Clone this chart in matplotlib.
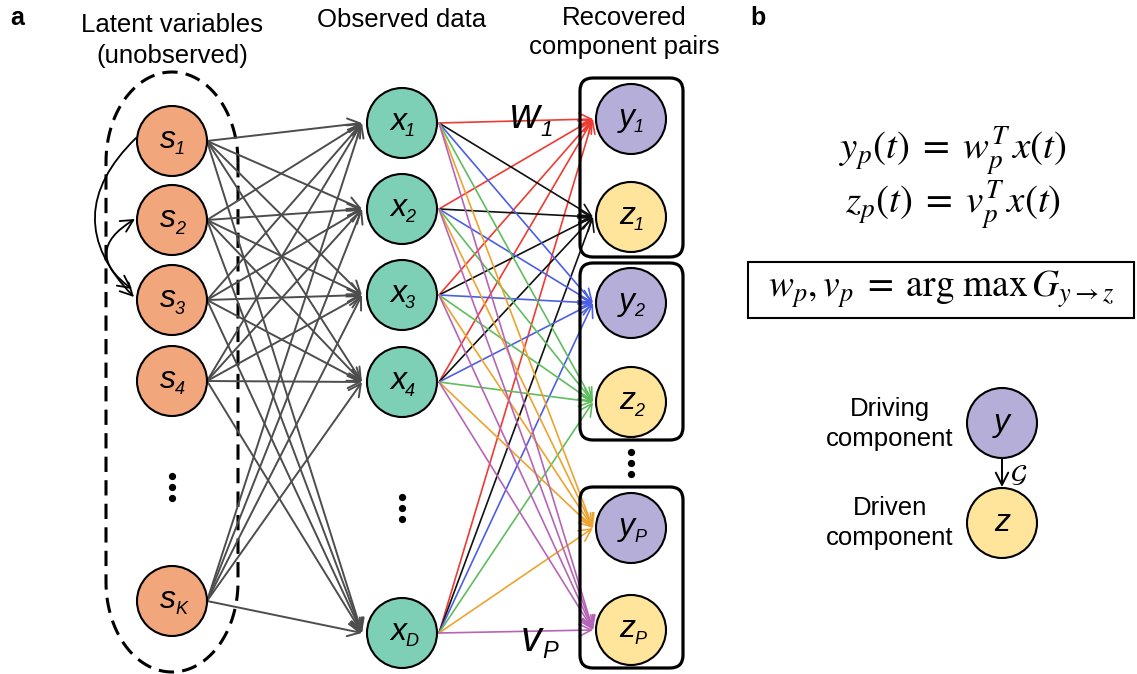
import numpy as np
import matplotlib
matplotlib.use("Agg")
import matplotlib.pyplot as plt
from matplotlib.patches import Circle, FancyArrowPatch, FancyBboxPatch, Rectangle, PathPatch
from matplotlib.path import Path

plt.rcParams['font.family'] = ['Liberation Sans', 'DejaVu Sans']

# node labels: (symbol, subscript)
latent_labels = [('s', '1'), ('s', '2'), ('s', '3'), ('s', '4'), ('s', 'K')]
observed_labels = [('x', '1'), ('x', '2'), ('x', '3'), ('x', '4'), ('x', 'D')]
recovered_labels = [('y', '1'), ('z', '1'), ('y', '2'), ('z', '2'), ('y', 'P'), ('z', 'P')]
weight_colors = ['#ee3b33', '#111111', '#4c5fe4', '#5fbd5f', '#eca32f', '#b565b5']

# layout (pixels, y downwards)
latent_x, latent_y = 172, [141, 220, 300, 381, 601]
observed_x, observed_y = 402, [123, 209, 295, 382, 633]
recovered_x, recovered_y = 631, [119, 217, 303, 402, 528, 630]
pair_boxes = [(580, 78, 683, 257), (580, 263, 683, 440), (580, 487, 683, 668)]
R = 35

fill = {'s': '#f1a77b', 'x': '#7dd0b6', 'y': '#b5aed8', 'z': '#fee59b'}
HEAD = 18.5

fig = plt.figure(figsize=(11.37, 6.74), dpi=100)
ax = fig.add_axes([0, 0, 1, 1])
ax.set_xlim(0, 1137)
ax.set_ylim(674, 0)
ax.axis('off')


def label(x, y, base, sub='', size=23, sub_size=13):
    if not sub:
        ax.text(x, y, base, ha='center', va='center', fontsize=size,
                fontstyle='italic', zorder=6)
        return
    ax.text(x + 4, y - 1, base, ha='right', va='center', fontsize=size,
            fontstyle='italic', zorder=6)
    ax.text(x + 3, y + 9, sub, ha='left', va='center', fontsize=sub_size,
            fontstyle='italic', zorder=6)


def node(x, y, color, base, sub=''):
    ax.add_patch(Circle((x, y), R, facecolor=color, edgecolor='black', lw=1.5, zorder=5))
    label(x, y, base, sub)


def arrow(p, q, color, lw, style='->', **kw):
    a = FancyArrowPatch(p, q, arrowstyle=style + ',head_length=0.55,head_width=0.28',
                        mutation_scale=16, color=color, lw=lw, shrinkA=0, shrinkB=0, **kw)
    ax.add_patch(a)


# panel labels
ax.text(10, 18, 'a', fontsize=18, fontweight='bold', va='center')
ax.text(750, 18, 'b', fontsize=18, fontweight='bold', va='center')

# column headers
ax.text(latent_x, 25, 'Latent variables', fontsize=HEAD, ha='center', va='center')
ax.text(latent_x, 56, '(unobserved)', fontsize=HEAD, ha='center', va='center')
ax.text(observed_x, 20, 'Observed data', fontsize=HEAD, ha='center', va='center')
ax.text(624, 18, 'Recovered', fontsize=HEAD, ha='center', va='center')
ax.text(624, 47, 'component pairs', fontsize=HEAD, ha='center', va='center')

# dashed outline around latent variables
t = np.linspace(0, np.pi, 60)
hw, cap = 66, 90
top = np.column_stack([latent_x + hw * np.cos(t), 72 + cap - cap * np.sin(t)])
bot = np.column_stack([latent_x - hw * np.cos(t), 672 - cap + cap * np.sin(t)])
verts = np.vstack([top, bot, top[:1]])
ax.add_patch(PathPatch(Path(verts), fill=False, lw=2.2, ls=(0, (5, 2.7)), zorder=1))

# mixing edges s -> x
for sy in latent_y:
    for xy in observed_y:
        arrow((latent_x + R, sy), (observed_x - 40, xy), '#4d4d4d', 1.4, zorder=2)

# weight edges x -> (y, z)
for ty, col in zip(recovered_y, weight_colors):
    for xy in observed_y:
        arrow((observed_x + R + 2, xy), (recovered_x - 38, ty), col, 1.2, zorder=3)

# lagged interactions among latent variables
arrow((136, 138), (134, 297), 'black', 1.3, connectionstyle='arc3,rad=0.5', zorder=4)
arrow((135, 219), (132, 289), 'black', 1.3, style='<->',
      connectionstyle='arc3,rad=0.75', zorder=4)

for y, (b, s) in zip(latent_y, latent_labels):
    node(latent_x, y, fill['s'], b, s)
for y, (b, s) in zip(observed_y, observed_labels):
    node(observed_x, y, fill['x'], b, s)
for y, (b, s) in zip(recovered_y, recovered_labels):
    node(recovered_x, y, fill[b], b, s)

for x0, y0, x1, y1 in pair_boxes:
    ax.add_patch(FancyBboxPatch((x0, y0), x1 - x0, y1 - y0,
                                boxstyle='round,pad=0,rounding_size=13',
                                fill=False, lw=2.3, zorder=4))

# ellipsis dots
for x, y in [(latent_x, 487), (observed_x, 508), (recovered_x, 463)]:
    ax.plot([x, x, x], [y - 11, y, y + 11], 'o', color='black', ms=4.2, zorder=6)

ax.text(540, 117, 'w', fontsize=30, fontstyle='italic', ha='right', va='center', zorder=6)
ax.text(540, 130, '1', fontsize=16, fontstyle='italic', ha='left', va='center', zorder=6)
ax.text(542, 640, 'v', fontsize=30, fontstyle='italic', ha='right', va='center', zorder=6)
ax.text(542, 652, 'P', fontsize=17, fontstyle='italic', ha='left', va='center', zorder=6)

# panel b: equations
ax.text(953, 152, r'$y_p(t)\;=\;w_p^T\,x(t)$', fontsize=28, ha='center', va='center',
        math_fontfamily='stix')
ax.text(953, 206, r'$z_p(t)\;=\;v_p^T\,x(t)$', fontsize=28, ha='center', va='center',
        math_fontfamily='stix')
ax.add_patch(Rectangle((748, 262), 386, 56, fill=False, lw=1.5))
ax.text(941, 289, r'$w_p, v_p\;=\;\arg\,\max\,G_{y\rightarrow z}$', fontsize=27,
        ha='center', va='center', math_fontfamily='stix')

# driving / driven schematic
node(1002, 423, fill['y'], 'y')
node(1002, 523, fill['z'], 'z')
arrow((1002, 459), (1002, 487), 'black', 1.4, zorder=4)
ax.text(1019, 475, r'$\mathcal{G}$', fontsize=19, ha='center', va='center',
        math_fontfamily='stix')
ax.text(890, 424, 'Driving\ncomponent', fontsize=HEAD, ha='center', va='center',
        linespacing=1.3)
ax.text(890, 523, 'Driven\ncomponent', fontsize=HEAD, ha='center', va='center',
        linespacing=1.3)

fig.savefig('out.png', dpi=100)
